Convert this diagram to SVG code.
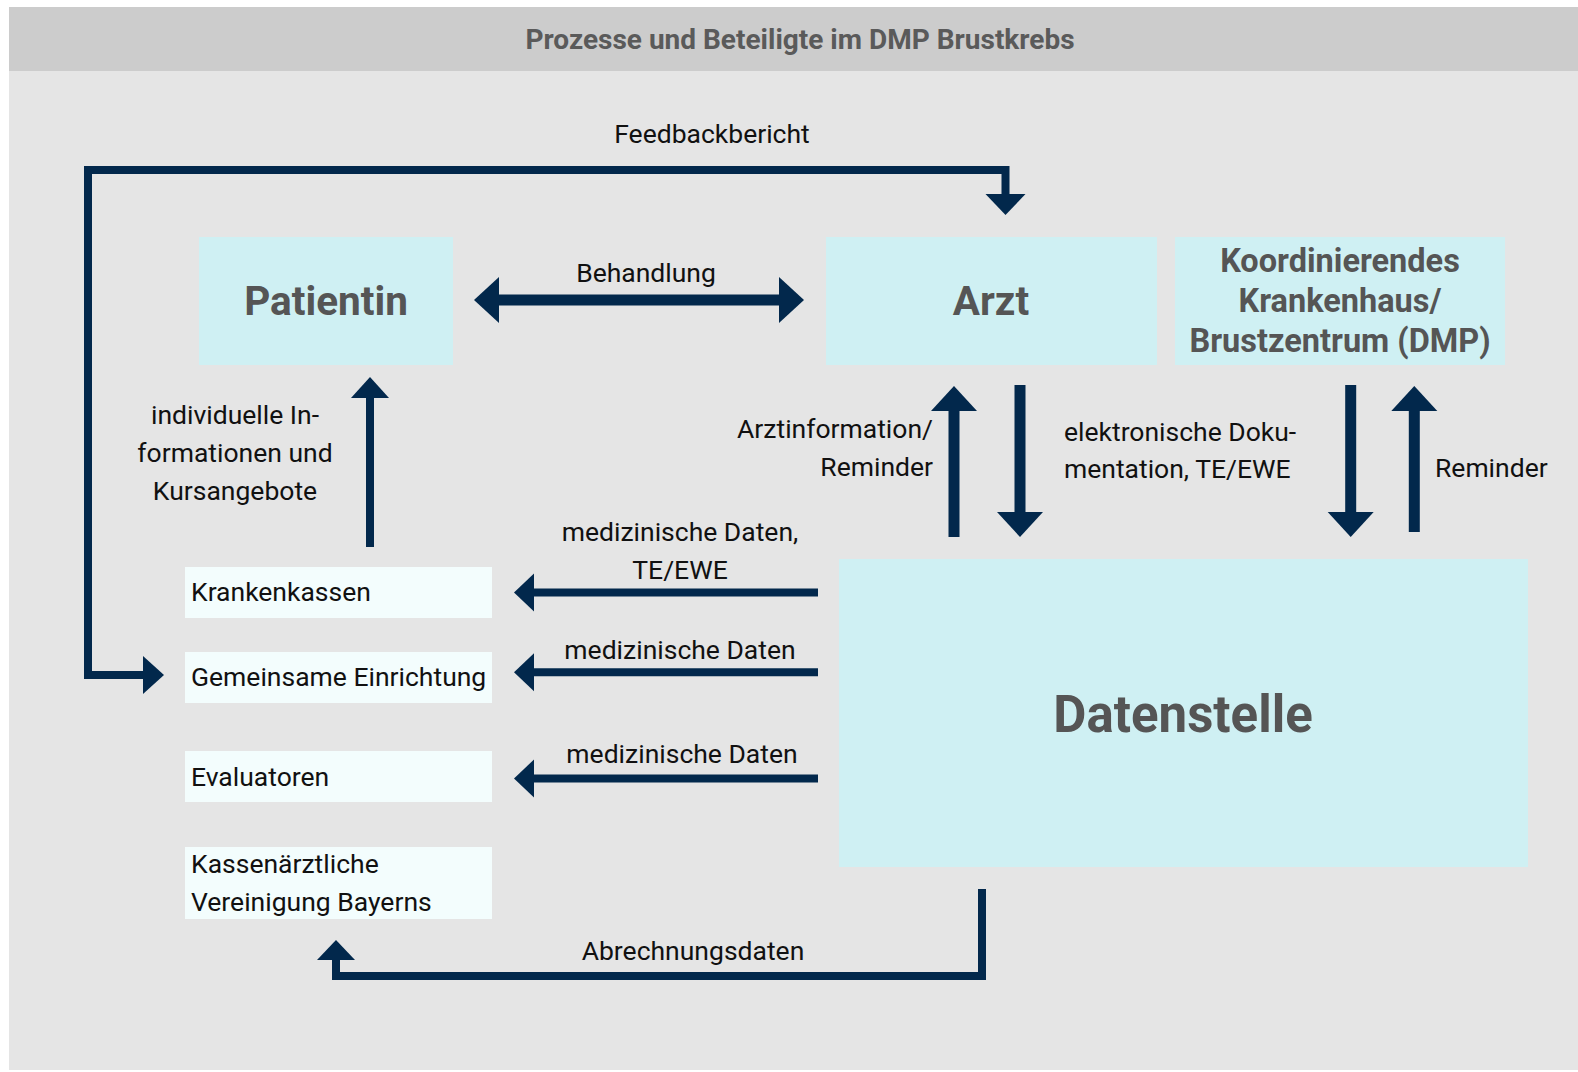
<svg xmlns="http://www.w3.org/2000/svg" width="1578" height="1072" viewBox="0 0 1578 1072">
<style>
.lbl{font-family:Roboto,"Liberation Sans",sans-serif;font-size:26.5px;fill:#111}
.big{font-family:Roboto,"Liberation Sans",sans-serif;font-weight:700;fill:#555}
.main{fill:#cff0f3}
.small{fill:#f3fdfd}
.line{fill:none;stroke:#02284c;stroke-linejoin:miter}
.head{fill:#02284c}
</style>
<rect x="0" y="0" width="1578" height="1072" fill="#ffffff"/>
<rect x="9" y="71" width="1569" height="999" fill="#e5e5e5"/>
<rect x="9" y="7" width="1569" height="64" fill="#cccccc"/>
<text x="800" y="49" text-anchor="middle" font-family="Roboto,'Liberation Sans',sans-serif" font-weight="700" font-size="28" fill="#5a5a5a">Prozesse und Beteiligte im DMP Brustkrebs</text>

<g id="patientin"><rect class="main" x="199" y="237" width="254" height="128"/><text class="big" x="326" y="315" text-anchor="middle" font-size="40.5">Patientin</text></g>
<g id="arzt"><rect class="main" x="826" y="237" width="331" height="128"/><text class="big" x="991" y="315" text-anchor="middle" font-size="40.5">Arzt</text></g>
<g id="krankenhaus"><rect class="main" x="1175" y="237" width="330" height="128"/><text class="big" x="1340" text-anchor="middle" font-size="32.5"><tspan x="1340" y="272">Koordinierendes</tspan><tspan x="1340" y="312">Krankenhaus/</tspan><tspan x="1340" y="352">Brustzentrum (DMP)</tspan></text></g>
<g id="datenstelle"><rect class="main" x="839" y="559" width="689" height="308"/><text class="big" x="1183" y="732" text-anchor="middle" font-size="51">Datenstelle</text></g>
<g id="krankenkassen"><rect class="small" x="185" y="567" width="307" height="51"/><text class="lbl" x="191" y="601">Krankenkassen</text></g>
<g id="gemeinsame"><rect class="small" x="185" y="652" width="307" height="51"/><text class="lbl" x="191" y="686">Gemeinsame Einrichtung</text></g>
<g id="evaluatoren"><rect class="small" x="185" y="751" width="307" height="51"/><text class="lbl" x="191" y="786">Evaluatoren</text></g>
<g id="kvb"><rect class="small" x="185" y="847" width="307" height="72"/><text class="lbl"><tspan x="191" y="873">Kassenärztliche</tspan><tspan x="191" y="911">Vereinigung Bayerns</tspan></text></g>

<g id="connectors">
<path class="line" stroke-width="8" d="M143 675 H88 V170 H1005.5 V195"/>
<polygon class="head" points="985.5,194 1025.5,194 1005.5,215"/>
<polygon class="head" points="143,656 164,675 143,694"/>
<text class="lbl" x="712" y="143" text-anchor="middle">Feedbackbericht</text>

<path class="line" stroke-width="11" d="M498 300 H780"/>
<polygon class="head" points="474,300 499,277 499,323"/>
<polygon class="head" points="804,300 779,277 779,323"/>
<text class="lbl" x="646" y="282" text-anchor="middle">Behandlung</text>

<path class="line" stroke-width="11" d="M954 410 V537"/>
<polygon class="head" points="954,386 931,411 977,411"/>
<text class="lbl" text-anchor="end"><tspan x="933" y="438">Arztinformation/</tspan><tspan x="933" y="476">Reminder</tspan></text>

<path class="line" stroke-width="11" d="M1020 385 V513"/>
<polygon class="head" points="1020,537 997,512 1043,512"/>
<text class="lbl"><tspan x="1064" y="441">elektronische Doku-</tspan><tspan x="1064" y="478">mentation, TE/EWE</tspan></text>

<path class="line" stroke-width="11" d="M1350.7 385 V513"/>
<polygon class="head" points="1350.7,537 1327.7,512 1373.7,512"/>

<path class="line" stroke-width="11" d="M1414.3 410 V532"/>
<polygon class="head" points="1414.3,386 1391.3,411 1437.3,411"/>
<text class="lbl" x="1435" y="477">Reminder</text>

<path class="line" stroke-width="8" d="M370 397 V547"/>
<polygon class="head" points="370,377 351,398 389,398"/>
<text class="lbl" text-anchor="middle"><tspan x="235" y="424">individuelle In-</tspan><tspan x="235" y="462">formationen und</tspan><tspan x="235" y="500">Kursangebote</tspan></text>

<path class="line" stroke-width="8" d="M533 592.5 H818"/>
<polygon class="head" points="514,592.5 534,573.5 534,611.5"/>
<text class="lbl" text-anchor="middle"><tspan x="680" y="541">medizinische Daten,</tspan><tspan x="680" y="579">TE/EWE</tspan></text>

<path class="line" stroke-width="8" d="M533 672.3 H818"/>
<polygon class="head" points="514,672.3 534,653.3 534,691.3"/>
<text class="lbl" x="680" y="659" text-anchor="middle">medizinische Daten</text>

<path class="line" stroke-width="8" d="M533 778.5 H818"/>
<polygon class="head" points="514,778.5 534,759.5 534,797.5"/>
<text class="lbl" x="682" y="763" text-anchor="middle">medizinische Daten</text>

<path class="line" stroke-width="8" d="M982 889 V976 H336 V959"/>
<polygon class="head" points="336,940 317,960 355,960"/>
<text class="lbl" x="693" y="960" text-anchor="middle">Abrechnungsdaten</text>
</g>
</svg>
